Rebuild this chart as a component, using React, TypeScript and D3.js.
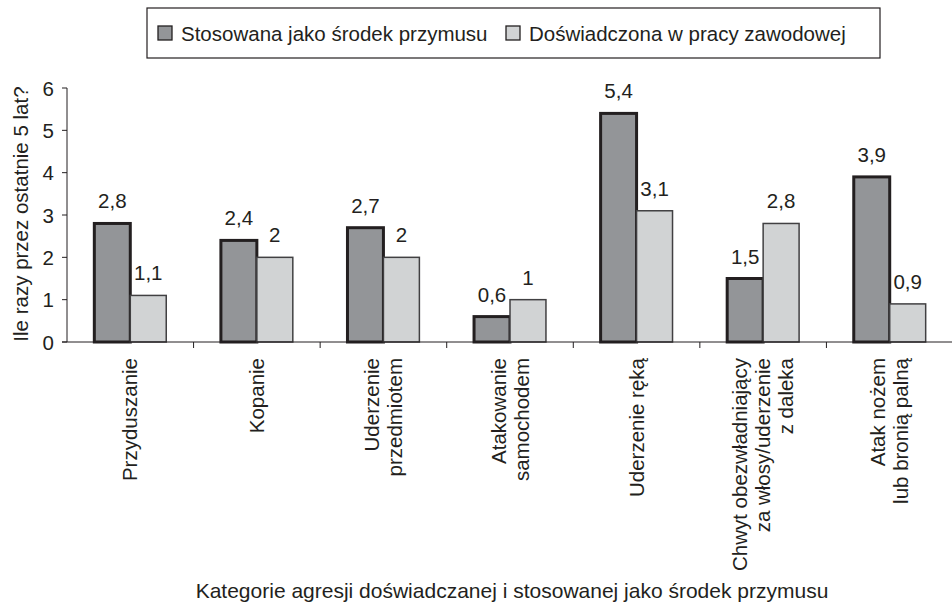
import * as d3 from 'd3';

const categories: string[][] = [
  ['Przyduszanie'],
  ['Kopanie'],
  ['Uderzenie', 'przedmiotem'],
  ['Atakowanie', 'samochodem'],
  ['Uderzenie ręką'],
  ['Chwyt obezwładniający', 'za włosy/uderzenie', 'z daleka'],
  ['Atak nożem', 'lub bronią palną'],
];
const seriesNames = ['Stosowana jako środek przymusu', 'Doświadczona w pracy zawodowej'];
const stosowana = [2.8, 2.4, 2.7, 0.6, 5.4, 1.5, 3.9];
const doswiadczona = [1.1, 2, 2, 1, 3.1, 2.8, 0.9];
const yTicks = [0, 1, 2, 3, 4, 5, 6];

const W = 952;
const H = 612;
const left = 67;
const right = 953;
const top = 88;
const bottom = 342;
const font = 'Arial, "Liberation Sans", Helvetica, sans-serif';
const fs = 20.5;

const fills = ['#939598', '#d1d3d4'];
const strokes = ['#231f20', '#414042'];
const strokeW = [3, 1.5];

export default function App() {
  const idx = categories.map((_, i) => String(i));
  const x0 = d3.scaleBand<string>().domain(idx).range([left, right]).padding(0);
  const x1 = d3
    .scaleBand<string>()
    .domain(['0', '1'])
    .range([0, x0.step()])
    .paddingInner(0)
    .paddingOuter(0.76);
  const y = d3.scaleLinear().domain([0, 6]).range([bottom, top]);
  const series = [stosowana, doswiadczona];
  const fmt = (v: number) => String(v).replace('.', ',');
  const legendX = [158, 506];

  return (
    <svg
      width={W}
      height={H}
      style={{ position: 'absolute', left: 0, top: 0, background: '#fff' }}
      fontFamily={font}
    >
      {/* legend */}
      <rect x={147} y={8} width={733} height={50} fill="#fff" stroke="#231f20" strokeWidth={1.2} />
      {seriesNames.map((name, i) => (
        <g key={name}>
          <rect
            x={legendX[i]}
            y={26}
            width={14}
            height={14}
            fill={fills[i]}
            stroke="#231f20"
            strokeWidth={1.3}
          />
          <text x={legendX[i] + 23} y={41} fontSize={fs} fill="#231f20">
            {name}
          </text>
        </g>
      ))}

      {/* y axis */}
      <line x1={left} x2={left} y1={top} y2={bottom} stroke="#231f20" strokeWidth={1} />
      {yTicks.map((t) => (
        <g key={t}>
          <line x1={left - 5} x2={left} y1={y(t)} y2={y(t)} stroke="#231f20" strokeWidth={1} />
          <text x={54} y={y(t) + 7.5} fontSize={fs} textAnchor="end" fill="#231f20">
            {t}
          </text>
        </g>
      ))}
      <text
        transform={`translate(28,${(top + bottom) / 2 - 1}) rotate(-90)`}
        fontSize={fs}
        textAnchor="middle"
        fill="#231f20"
      >
        Ile razy przez ostatnie 5 lat?
      </text>

      {/* bars */}
      {categories.map((_, ci) => (
        <g key={ci} transform={`translate(${x0(String(ci))},0)`}>
          {series.map((s, si) => {
            const bx = x1(String(si)) as number;
            const v = s[ci];
            return (
              <g key={si}>
                <rect
                  x={bx}
                  y={y(v)}
                  width={x1.bandwidth()}
                  height={y(0) - y(v)}
                  fill={fills[si]}
                  stroke={strokes[si]}
                  strokeWidth={strokeW[si]}
                />
                <text
                  x={bx + x1.bandwidth() / 2}
                  y={y(v) - 15}
                  fontSize={fs}
                  textAnchor="middle"
                  fill="#231f20"
                >
                  {fmt(v)}
                </text>
              </g>
            );
          })}
        </g>
      ))}

      {/* x axis */}
      <line x1={left - 5} x2={right} y1={bottom} y2={bottom} stroke="#231f20" strokeWidth={1} />
      {idx.slice(1).map((c) => (
        <line
          key={c}
          x1={x0(c)}
          x2={x0(c)}
          y1={bottom}
          y2={bottom + 6}
          stroke="#231f20"
          strokeWidth={1}
        />
      ))}
      {categories.map((lines, ci) => {
        const cx = (x0(String(ci)) as number) + x0.bandwidth() / 2;
        return (
          <g key={ci}>
            {lines.map((ln, li) => (
              <text
                key={li}
                transform={`translate(${cx + 7 + (li - (lines.length - 1) / 2) * 23},358) rotate(-90)`}
                fontSize={fs}
                textAnchor="end"
                fill="#231f20"
              >
                {ln}
              </text>
            ))}
          </g>
        );
      })}
      <text x={512} y={598} fontSize={21} textAnchor="middle" fill="#231f20">
        Kategorie agresji doświadczanej i stosowanej jako środek przymusu
      </text>
    </svg>
  );
}
